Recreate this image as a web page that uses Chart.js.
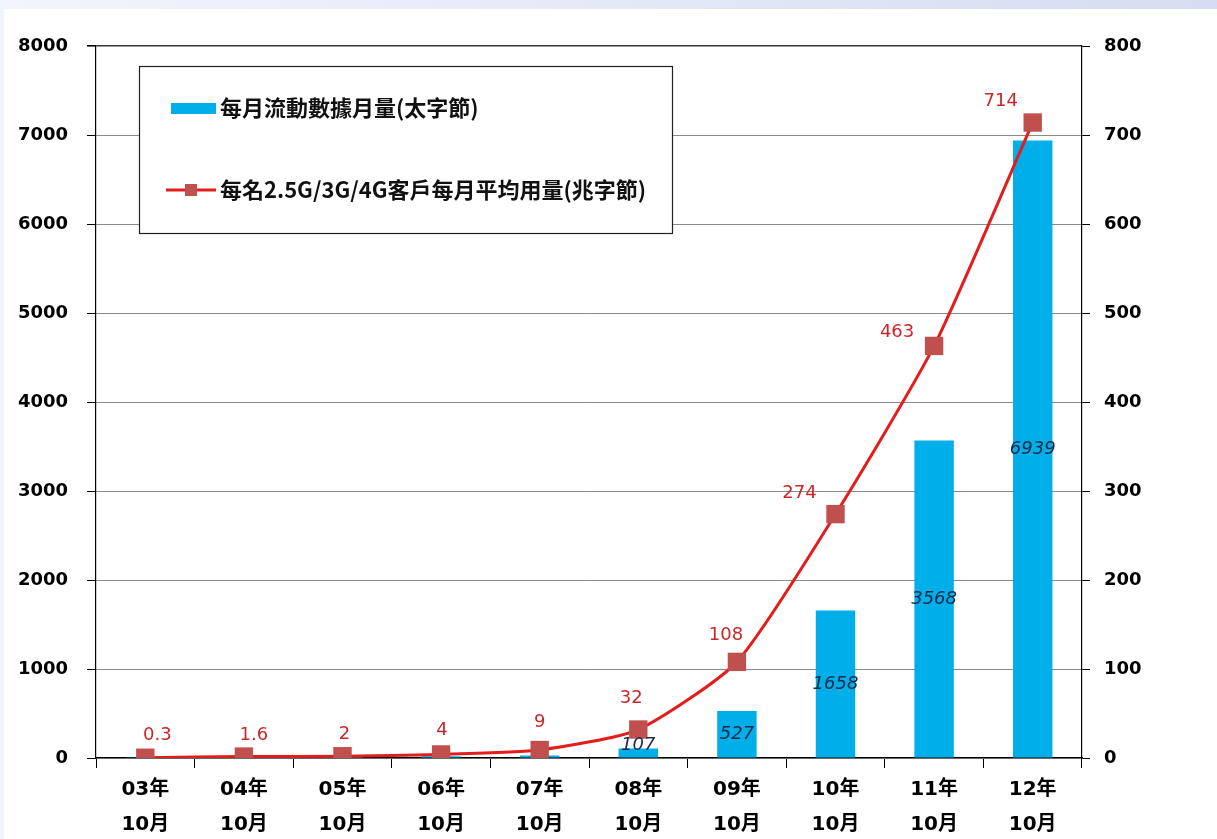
<!DOCTYPE html>
<html>
<head>
<meta charset="utf-8">
<script src="https://cdn.jsdelivr.net/npm/chart.js@4.4.1/dist/chart.umd.min.js"></script>
<style>
  html, body { margin: 0; padding: 0; }
  body {
    width: 1217px; height: 839px; overflow: hidden;
    background: linear-gradient(to right, #f2f5fc, #d6ddf2);
  }
  #wrap {
    position: absolute; left: 4px; top: 9px;
    width: 1213px; height: 830px; background: #ffffff;
  }
</style>
</head>
<body>
<div id="wrap"><canvas id="chart"></canvas></div>
<script>
// ==================================================
// DATA
// ==================================================
const years = ["03年", "04年", "05年", "06年", "07年", "08年", "09年", "10年", "11年", "12年"];
const month = "10月";
const monthlyData = [2, 7, 12, 20, 28, 107, 527, 1658, 3568, 6939];
const avgUsage = [0.3, 1.6, 2, 4, 9, 32, 108, 274, 463, 714];
const barLabel = "每月流動數據月量(太字節)";
const lineLabel = "每名2.5G/3G/4G客戶每月平均用量(兆字節)";
const leftTicks = [0, 1000, 2000, 3000, 4000, 5000, 6000, 7000, 8000];
const rightTicks = [0, 100, 200, 300, 400, 500, 600, 700, 800];

// label nudges for the red values (px)
const lineLabelDx = [12, 10, 2, 1, 0, -7, -11, -36, -37, -32];
const lineLabelDy = [-22, -21, -22, -24, -28, -31, -27, -21, -14, -21];

const tickFont = { family: "'DejaVu Sans', sans-serif", size: 18, weight: "bold" };

// ==================================================
// PLUGINS
// ==================================================
const valueLabels = {
  id: "valueLabels",
  afterDatasetsDraw(chart) {
    const ctx = chart.ctx;
    ctx.save();
    ctx.textAlign = "center";
    ctx.textBaseline = "middle";

    // bar values, italic, centred in the bar (only the bigger ones)
    const bars = chart.getDatasetMeta(1).data;
    ctx.font = "italic 18px 'DejaVu Sans', sans-serif";
    ctx.fillStyle = "#1c2a48";
    bars.forEach((bar, i) => {
      const v = monthlyData[i];
      if (v < 100) return;
      let y = (bar.y + bar.base) / 2;
      if (v < 200) y = bar.base - 12;
      ctx.fillText(String(v), bar.x, y);
    });

    // line values, red, above the points
    const pts = chart.getDatasetMeta(0).data;
    ctx.font = "18px 'DejaVu Sans', sans-serif";
    ctx.fillStyle = "#c8282a";
    pts.forEach((p, i) => {
      ctx.fillText(String(avgUsage[i]), p.x + lineLabelDx[i], p.y + lineLabelDy[i]);
    });
    ctx.restore();
  },
};

const boxLegend = {
  id: "boxLegend",
  afterDraw(chart) {
    const ctx = chart.ctx;
    const a = chart.chartArea;
    const x0 = a.left + 43, y0 = a.top + 20, w = 533, h = 167;
    ctx.save();
    ctx.fillStyle = "#ffffff";
    ctx.fillRect(x0, y0, w, h);
    ctx.strokeStyle = "#222";
    ctx.lineWidth = 1.2;
    ctx.strokeRect(x0 + 0.5, y0 + 0.5, w, h);

    ctx.font = "bold 22px 'Noto Sans CJK TC', sans-serif";
    ctx.textBaseline = "middle";
    ctx.textAlign = "left";

    // bar entry
    const barDs = chart.data.datasets[1];
    ctx.fillStyle = barDs.backgroundColor;
    ctx.fillRect(x0 + 32, y0 + 37, 45, 11);
    ctx.fillStyle = "#111";
    ctx.fillText(barDs.label, x0 + 81, y0 + 42);

    // line entry
    const lineDs = chart.data.datasets[0];
    const ly = y0 + 124;
    ctx.strokeStyle = lineDs.borderColor;
    ctx.lineWidth = 3;
    ctx.beginPath();
    ctx.moveTo(x0 + 27, ly);
    ctx.lineTo(x0 + 77, ly);
    ctx.stroke();
    ctx.fillStyle = lineDs.pointBackgroundColor;
    ctx.fillRect(x0 + 46, ly - 6, 12, 12);
    ctx.fillStyle = "#111";
    ctx.fillText(lineDs.label, x0 + 81, ly);
    ctx.restore();
  },
};

// ==================================================
// CHART
// ==================================================
const canvas = document.getElementById("chart");
canvas.width = 1213;
canvas.height = 830;

new Chart(canvas.getContext("2d"), {
  data: {
    labels: years.map((y) => [y, month]),
    datasets: [
      {
        type: "line",
        label: lineLabel,
        data: avgUsage,
        yAxisID: "yRight",
        borderColor: "#e31c1c",
        borderWidth: 3,
        tension: 0.2,
        pointStyle: "rect",
        pointRadius: 13,
        pointHoverRadius: 13,
        pointBorderWidth: 0,
        pointBackgroundColor: "#c0504d",
        pointBorderColor: "#c0504d",
        order: 0,
      },
      {
        type: "bar",
        label: barLabel,
        data: monthlyData,
        yAxisID: "yLeft",
        backgroundColor: "#00aeea",
        barPercentage: 0.8,
        categoryPercentage: 0.5,
        order: 1,
      },
    ],
  },
  options: {
    responsive: false,
    animation: false,
    events: [],
    layout: { padding: { top: 37, left: 0, right: 0, bottom: 0 } },
    plugins: { legend: { display: false }, tooltip: { enabled: false } },
    scales: {
      x: {
        grid: {
          offset: true,
          drawOnChartArea: false,
          tickLength: 10,
          tickColor: "#000",
        },
        border: { color: "#000", width: 1.2 },
        ticks: {
          color: "#000",
          font: { family: "'DejaVu Sans', 'Noto Sans CJK TC', sans-serif", size: 20, weight: "bold", lineHeight: 1.75 },
          padding: 4,
          maxRotation: 0,
        },
        afterFit(scale) { scale.height = 81; },
      },
      yLeft: {
        position: "left",
        min: 0,
        max: 8000,
        afterBuildTicks(scale) { scale.ticks = leftTicks.map((v) => ({ value: v })); },
        grid: {
          color: (c) => (c.tick && c.tick.value === 8000 ? "#333" : "#8a8a8a"),
          lineWidth: (c) => (c.tick && c.tick.value === 8000 ? 1.6 : 1),
          tickLength: 9,
          tickColor: "#000",
        },
        border: { color: "#000", width: 1.2 },
        ticks: { color: "#000", font: tickFont, padding: 19, callback: (v) => String(v) },
        afterFit(scale) { scale.width = 92; },
      },
      yRight: {
        position: "right",
        min: 0,
        max: 800,
        afterBuildTicks(scale) { scale.ticks = rightTicks.map((v) => ({ value: v })); },
        grid: { drawOnChartArea: false, tickLength: 8, tickColor: "#000" },
        border: { color: "#000", width: 1.2 },
        ticks: { color: "#000", font: tickFont, padding: 14, callback: (v) => String(v) },
        afterFit(scale) { scale.width = 135; },
      },
    },
  },
  plugins: [valueLabels, boxLegend],
});
</script>
</body>
</html>
